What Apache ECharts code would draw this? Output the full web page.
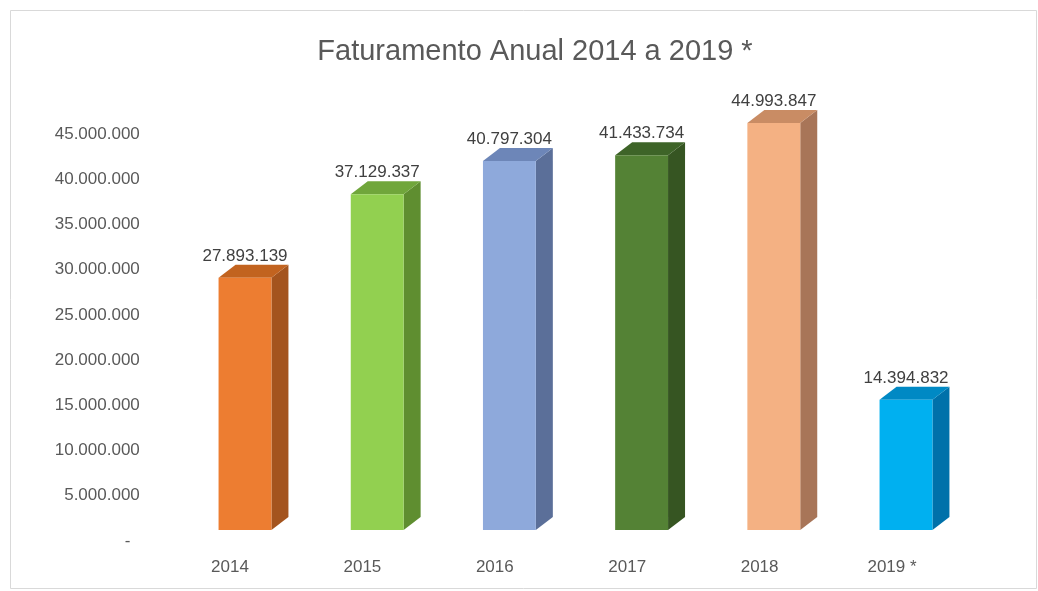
<!DOCTYPE html>
<html>
<head>
<meta charset="utf-8">
<title>Faturamento Anual 2014 a 2019</title>
<script src="https://cdn.jsdelivr.net/npm/echarts@6/dist/echarts.min.js"></script>
<style>
  html, body { margin: 0; padding: 0; background: #ffffff; }
  #chart { width: 1038px; height: 591px; }
</style>
</head>
<body>
<div id="chart"></div>
<script>
// Annual revenue, 2019 partial
const categories = ['2014', '2015', '2016', '2017', '2018', '2019 *'];
const revenue = [27893139, 37129337, 40797304, 41433734, 44993847, 14394832];

// Face colours of each column: front, right side, top
const frontColors = ['#ED7D31', '#92D050', '#8EA9DB', '#548235', '#F4B183', '#00B0F0'];
const sideColors  = ['#A4541E', '#5F8E30', '#5B6F99', '#365522', '#A87558', '#0071AA'];
const topColors   = ['#C2631F', '#70A63B', '#6D86B8', '#3E6428', '#C98C64', '#0089C4'];

const FONT = '"Liberation Sans", Arial, sans-serif';
const TEXT_GRAY = '#595959';

// Brazilian thousands separator
function fmt(v) {
  return Math.round(v).toString().replace(/\B(?=(\d{3})+(?!\d))/g, '.');
}

const chart = echarts.init(document.getElementById('chart'), null, { renderer: 'canvas' });

// Depth of the extruded columns
const DEPTH_X = 17;
const DEPTH_Y = 13;

function renderColumn(params, api) {
  const i = api.value(0);
  const v = api.value(1);
  const base = api.coord([i, 0]);
  const top = api.coord([i, v]);
  const band = api.size([1, 0])[0];
  const w = band * 0.4;
  const x0 = base[0] - w / 2;
  const x1 = base[0] + w / 2;
  const yT = top[1];
  const yB = base[1];
  return {
    type: 'group',
    children: [
      {
        type: 'polygon',
        shape: { points: [[x1, yT], [x1 + DEPTH_X, yT - DEPTH_Y], [x1 + DEPTH_X, yB - DEPTH_Y], [x1, yB]] },
        style: { fill: sideColors[i] }
      },
      {
        type: 'polygon',
        shape: { points: [[x0, yT], [x0 + DEPTH_X, yT - DEPTH_Y], [x1 + DEPTH_X, yT - DEPTH_Y], [x1, yT]] },
        style: { fill: topColors[i] }
      },
      {
        type: 'rect',
        shape: { x: x0, y: yT, width: w, height: yB - yT },
        style: { fill: frontColors[i] }
      },
      {
        type: 'text',
        style: {
          text: fmt(v),
          x: base[0],
          y: yT - DEPTH_Y,
          align: 'center',
          verticalAlign: 'bottom',
          font: '17px ' + FONT,
          fill: '#404040'
        }
      }
    ]
  };
}

const option = {
  backgroundColor: '#ffffff',
  animation: false,
  title: {
    text: 'Faturamento Anual 2014 a 2019 *',
    left: 530,
    textAlign: 'center',
    top: 32,
    textStyle: { fontFamily: FONT, fontSize: 29, fontWeight: 'normal', color: TEXT_GRAY }
  },
  graphic: [
    {
      type: 'rect',
      shape: { x: 10.5, y: 10.5, width: 1026, height: 578 },
      style: { fill: 'none', stroke: '#d9d9d9', lineWidth: 1 },
      silent: true,
      z: -10
    }
  ],
  grid: [
    // axis labels
    { left: 163.8, right: 79.8, top: 134, bottom: 50 },
    // extruded columns
    { left: 178.9, right: 65.9, top: 123, bottom: 61 }
  ],
  xAxis: [
    {
      gridIndex: 0,
      type: 'category',
      data: categories,
      axisLine: { show: false },
      axisTick: { show: false },
      axisLabel: { margin: 18, fontFamily: FONT, fontSize: 17, color: TEXT_GRAY }
    },
    {
      gridIndex: 1,
      type: 'category',
      data: categories,
      show: false
    }
  ],
  yAxis: [
    {
      gridIndex: 0,
      type: 'value',
      min: 0,
      max: 45000000,
      interval: 5000000,
      axisLine: { show: false },
      axisTick: { show: false },
      splitLine: { show: false },
      axisLabel: {
        margin: 24,
        fontFamily: FONT,
        fontSize: 17,
        color: TEXT_GRAY,
        formatter: function (v) { return v === 0 ? '-  ' : fmt(v); }
      }
    },
    {
      gridIndex: 1,
      type: 'value',
      min: 0,
      max: 45000000,
      show: false
    }
  ],
  series: [
    {
      type: 'custom',
      name: 'Faturamento',
      xAxisIndex: 1,
      yAxisIndex: 1,
      renderItem: renderColumn,
      encode: { x: 0, y: 1 },
      data: revenue.map(function (v, i) { return [i, v]; })
    }
  ]
};

chart.setOption(option);
</script>
</body>
</html>
